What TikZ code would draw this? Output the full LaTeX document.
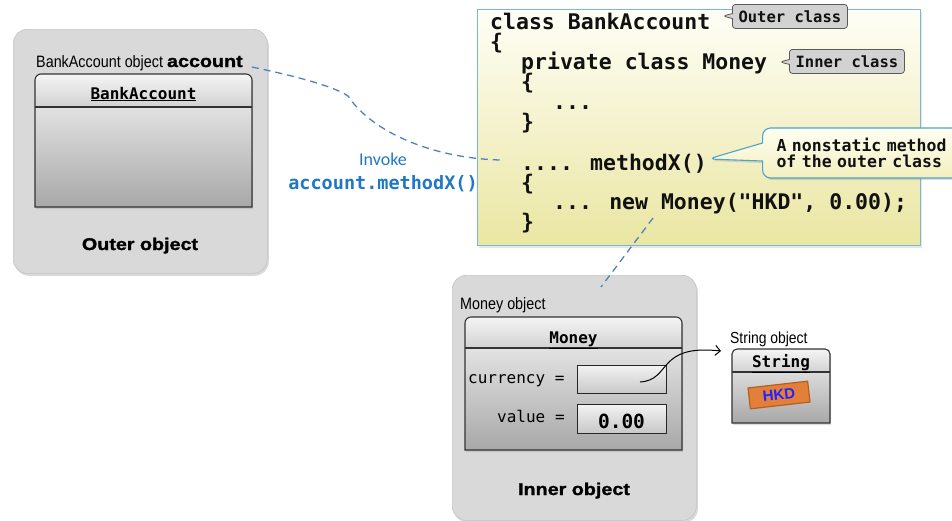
\documentclass[tikz,border=0pt]{standalone}
\usepackage{fontspec}
\setmainfont{Liberation Sans}
\newfontfamily\codefont{DejaVu Sans Mono}
\newfontfamily\narrowfont[FakeStretch=0.87]{Liberation Sans}
\newfontfamily\heavyfont[FakeStretch=1.16,FakeBold=1.4]{Liberation Sans Bold}
\newfontfamily\uifont{Carlito}
\usetikzlibrary{shadows,shapes.callouts,arrows.meta}

\definecolor{objgray}{HTML}{D9D9D9}
\definecolor{objedge}{HTML}{C4C4C4}
\definecolor{classtop}{HTML}{F4F4F4}
\definecolor{classbot}{HTML}{A8A8A8}
\definecolor{headbot}{HTML}{D2D2D2}
\definecolor{codetop}{HTML}{FEFEF6}
\definecolor{codebot}{HTML}{EAE6A2}
\definecolor{codeedge}{HTML}{7BB7D7}
\definecolor{codeink}{HTML}{111111}
\definecolor{tagfill}{HTML}{D2D2D2}
\definecolor{tagedge}{HTML}{5A5A5A}
\definecolor{notetop}{HTML}{FFFFF2}
\definecolor{notebot}{HTML}{F2EFBE}
\definecolor{noteedge}{HTML}{4EA3CC}
\definecolor{linkblue}{HTML}{4F81BD}
\definecolor{textblue}{HTML}{1F77C5}
\definecolor{hkdfill}{HTML}{E2803A}
\definecolor{hkdedge}{HTML}{B65E22}
\definecolor{hkdink}{HTML}{2323FF}

\begin{document}
\begin{tikzpicture}[x=1pt,y=-1pt,
  objpanel/.style={fill=objgray, draw=objedge, line width=0.6pt,
    rounded corners=14pt, inner sep=0pt,
    drop shadow={opacity=0.3, shadow xshift=1.5pt, shadow yshift=-2.5pt}},
  classbody/.style={top color=classtop, bottom color=classbot,
    drop shadow={opacity=0.25, shadow xshift=1pt, shadow yshift=-2pt}},
  classhead/.style={top color=white!96!black, bottom color=headbot},
  headline/.style={draw=black!80, line width=1.1pt},
  headtext/.style={inner sep=0pt, anchor=base,
    font=\codefont\bfseries\fontsize{16}{18}\selectfont},
  objlabel/.style={inner sep=0pt, anchor=base west,
    font=\narrowfont\fontsize{16.5}{18}\selectfont},
  objtitle/.style={inner sep=0pt, anchor=base,
    font=\heavyfont\fontsize{17}{19}\selectfont},
  codepanel/.style={top color=codetop, bottom color=codebot, draw=codeedge,
    line width=1.4pt, inner sep=0pt,
    drop shadow={opacity=0.2, shadow xshift=1.5pt, shadow yshift=-2pt}},
  codeline/.style={anchor=base west, inner sep=0pt, text=codeink,
    font=\codefont\bfseries\fontsize{21.5}{24}\selectfont},
  tagnote/.style={rectangle callout, fill=tagfill, draw=tagedge,
    line width=0.8pt, rounded corners=3pt, inner sep=0pt,
    callout pointer width=5pt, text=codeink,
    font=\codefont\bfseries\fontsize{15.5}{17}\selectfont},
  methodnote/.style={rectangle callout, top color=notetop, bottom color=notebot,
    draw=noteedge, line width=1.1pt, rounded corners=8pt,
    callout pointer width=18pt, inner xsep=14pt, inner ysep=0pt,
    text width=196pt, align=left, text=codeink,
    font=\codefont\bfseries\fontsize{16.5}{16.5}\selectfont,
    drop shadow={opacity=0.25, shadow xshift=1.5pt, shadow yshift=-2pt}},
  fieldtext/.style={anchor=base west, inner sep=0pt,
    font=\codefont\fontsize{16}{18}\selectfont},
  slot/.style={top color=white!95!black, bottom color=black!22, draw=black!85,
    line width=1.1pt, inner sep=0pt, anchor=north west},
  link/.style={draw=linkblue, line width=1.3pt, dash pattern=on 7pt off 5pt},
  invoketext/.style={inner sep=0pt, anchor=base, text=textblue}
]
\useasboundingbox (0,0) rectangle (952,520);
\clip (0,0) rectangle (952,520);

% ---------- outer object: BankAccount instance ----------
\node[objpanel, anchor=north west, minimum width=254pt, minimum height=244pt]
  (outerobj) at (13,29) {};
\path[classbody] (35,207) [rounded corners=6pt] -- (35,74) -- (252,74)
  [sharp corners] -- (252,207) -- cycle;
\path[classhead] (35,107) [rounded corners=6pt] -- (35,74) -- (252,74)
  [sharp corners] -- (252,107) -- cycle;
\draw[headline] (35,207) [rounded corners=6pt] -- (35,74) -- (252,74)
  [sharp corners] -- (252,207) -- cycle;
\draw[headline] (35,107) -- (252,107);
\node[headtext] (bankhead) at (143.5,99) {\underline{BankAccount}};
\node[objlabel] (acc) at (36,67)
  {BankAccount object {\heavyfont\fontsize{17}{19}\selectfont account}};
\node[objtitle] (outertitle) at (140,250) {Outer object};

% ---------- source code panel ----------
\node[codepanel, anchor=north west, minimum width=443pt, minimum height=236pt]
  (code) at (477,9) {};
\node[codeline] (l1)  at (490,29)  {class BankAccount};
\node[codeline] (l2)  at (490,49)  {\{};
\node[codeline] (l3)  at (521,69)  {private class Money};
\node[codeline] (l4)  at (521,89)  {\{};
\node[codeline] (l5)  at (553,109) {...};
\node[codeline] (l6)  at (521,129) {\}};
\node[codeline] (l7)  at (521,170) {.... methodX()};
\node[codeline] (l8)  at (521,190) {\{};
\node[codeline] (l9)  at (553,209) {... new Money("HKD", 0.00);};
\node[codeline] (l10) at (521,229) {\}};

% ---------- callouts ----------
\node[tagnote, callout absolute pointer={(723,16)}, anchor=north west,
  minimum width=115pt, minimum height=24pt] (outertag) at (732,4) {Outer class};
\node[tagnote, callout absolute pointer={(780,62)}, anchor=north west,
  minimum width=115pt, minimum height=24pt] (innertag) at (789,49) {Inner class};
\node[methodnote, callout absolute pointer={(708,159)}, anchor=west,
  minimum height=50pt] (methodtag) at (762,153)
  {A nonstatic method\\of the outer class};

% ---------- invocation link ----------
\coordinate (callpt) at (500,160);
\draw[link] ([xshift=9pt]acc.base east) .. controls (300,77) and (335,87) .. (348,96)
  .. controls (372,132) and (432,158) .. (callpt);
\node[invoketext, font=\uifont\fontsize{18}{20}\selectfont] (invoke) at (383,165) {Invoke};
\node[invoketext, font=\codefont\bfseries\fontsize{18.5}{20}\selectfont] (invcall)
  at (383,189) {account.methodX()};

% ---------- inner object: Money instance ----------
\coordinate (newpt) at (653,218);
\coordinate (innertop) at (601,287);
\node[objpanel, anchor=north west, minimum width=244pt, minimum height=245pt]
  (innerobj) at (452,275) {};
\draw[link] (newpt) -- (innertop);
\path[classbody] (465,450) [rounded corners=6pt] -- (465,317) -- (682,317)
  [sharp corners] -- (682,450) -- cycle;
\path[classhead] (465,348) [rounded corners=6pt] -- (465,317) -- (682,317)
  [sharp corners] -- (682,348) -- cycle;
\draw[headline] (465,450) [rounded corners=6pt] -- (465,317) -- (682,317)
  [sharp corners] -- (682,450) -- cycle;
\draw[headline] (465,348) -- (682,348);
\node[headtext] (moneyhead) at (573.5,343) {\underline{Money}};
\node[objlabel] (moneylabel) at (460,309) {Money object};
\node[fieldtext] (curlabel) at (468,383) {currency =};
\node[fieldtext] (vallabel) at (497,422) {value =};
\node[slot, minimum width=89pt, minimum height=28pt] (curslot) at (577,365) {};
\node[slot, minimum width=89pt, minimum height=29pt] (valslot) at (577,404) {};
\node[inner sep=0pt, anchor=base, font=\codefont\bfseries\fontsize{19.5}{21}\selectfont]
  (valtext) at (621.5,428) {0.00};
\node[objtitle] (innertitle) at (574,495) {Inner object};

% ---------- String instance ----------
\node[objlabel, font=\narrowfont\fontsize{16}{18}\selectfont] (strlabel) at (730,343) {String object};
\path[classbody] (732,423) [rounded corners=5pt] -- (732,349) -- (830,349)
  [sharp corners] -- (830,423) -- cycle;
\path[classhead] (732,372) [rounded corners=5pt] -- (732,349) -- (830,349)
  [sharp corners] -- (830,372) -- cycle;
\draw[headline] (732,423) [rounded corners=5pt] -- (732,349) -- (830,349)
  [sharp corners] -- (830,423) -- cycle;
\draw[headline] (732,372) -- (830,372);
\node[headtext] (strhead) at (781,367) {\underline{String}};
\node[fill=hkdfill, draw=hkdedge, line width=1.2pt, rotate=6.5,
  minimum width=60pt, minimum height=21pt, inner sep=0pt, text=hkdink,
  font=\bfseries\fontsize{15}{17}\selectfont] (hkd) at (779,395) {HKD};

% ---------- reference from currency to the String ----------
\coordinate (curpt) at (640,382);
\coordinate (strin) at (721,351);
\draw[line width=1pt, -{Straight Barb[length=5pt,width=10pt]}]
  (curpt) .. controls (672,380) and (656,344) .. (strin);
\end{tikzpicture}
\end{document}
